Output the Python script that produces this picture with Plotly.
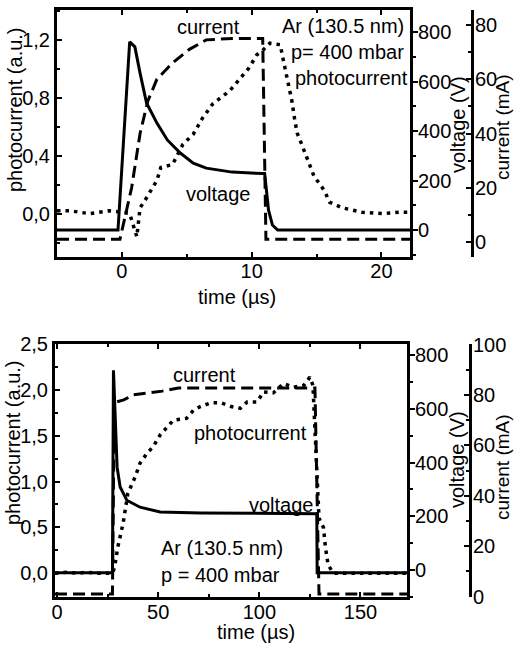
import plotly.graph_objects as go

# ---- top panel data (time in us) ----
t_volt_top = [-5, -0.3, 0.6, 1.0, 1.4, 1.9, 2.7, 3.5, 4.5, 5.5, 6.5, 8.5, 10.9, 11.0, 11.3, 11.6, 12.0, 22.2]
volt_top = [0, 0, 760, 740, 634, 513, 432, 364, 311, 270, 250, 234, 228, 228, 80, 20, 0, 0]

t_cur_top = [-5, -0.15, 0.75, 1.4, 2.0, 2.7, 3.9, 5.2, 6.5, 8.5, 10.85, 11.1, 22.2]
cur_top = [1, 1, 20, 40, 52, 60, 66, 71, 74.5, 75, 75, 1, 1]

t_pc_top = [-5, -4, -2.5, -1, 0, 0.6, 1.15, 1.4, 1.9, 2.7, 3.0, 3.9, 4.7, 5.5, 6.2, 7.0, 8.3, 9.1, 9.8,
            10.4, 10.85, 11.4, 12.2, 12.4, 12.9, 13.1, 13.3, 13.5, 13.9, 14.3, 14.8, 15.6, 16, 17, 18.5,
            20.1, 21.4, 22.2]
pc_top = [0.02, 0.02, 0.0, 0.02, 0.01, 0.0, -0.16, 0.04, 0.11, 0.23, 0.32, 0.34, 0.48, 0.55, 0.66, 0.76,
          0.85, 0.94, 1.01, 1.1, 1.13, 1.18, 1.17, 1.08, 0.88, 0.78, 0.66, 0.56, 0.47, 0.37, 0.26, 0.16,
          0.08, 0.04, 0.01, 0.0, 0.01, 0.01]

# ---- bottom panel data ----
t_volt_bot = [-1, 27.4, 27.9, 28.7, 29.7, 31.2, 34.5, 41, 51, 71, 128.4, 128.6, 173]
volt_bot = [-10, -10, 743, 558, 383, 309, 260, 234, 216, 212, 210, -10, -10]

t_cur_bot = [-1, 27.4, 28.3, 33, 37.7, 52, 60, 127.5, 129.5, 173]
cur_bot = [1, 1, 77, 78, 80, 81.5, 82.7, 82.7, 1, 1]

t_pc_bot = [-1, 5, 10, 15, 20, 25, 27.5, 28.5, 30, 32.7, 35, 38.6, 41, 44.5, 47.5, 51, 54.5, 57.5, 61, 64,
            67.5, 71, 76, 81, 86, 90.6, 94, 99, 102, 107, 112, 117, 122, 125, 126.5, 127.5, 128.5, 129.5,
            131.7, 132.7, 134, 136.6, 150, 173]
pc_bot = [0, 0.01, 0, 0.01, 0, 0, 0.0, 0.07, 0.28, 0.55, 0.87, 1.05, 1.2, 1.31, 1.38, 1.51, 1.6, 1.67, 1.68,
          1.69, 1.78, 1.82, 1.86, 1.86, 1.82, 1.80, 1.87, 1.87, 1.98, 1.97, 2.07, 2.03, 2.05, 2.14, 2.05,
          1.6, 1.0, 0.6, 0.5, 0.28, 0.09, 0.0, 0.0, 0.0]

FONT = "Liberation Sans, Arial, sans-serif"
W, H = 514, 645
LW = 3
solid = dict(color="black", width=LW)
dashed = dict(color="black", width=LW, dash="12px,6px")
dotted = dict(color="black", width=3.5, dash="3.5px,5px")

fig = go.Figure()
# top
fig.add_trace(go.Scatter(x=t_volt_top, y=volt_top, mode="lines", line=solid, xaxis="x", yaxis="y2"))
fig.add_trace(go.Scatter(x=t_cur_top, y=cur_top, mode="lines", line=dashed, xaxis="x", yaxis="y3"))
fig.add_trace(go.Scatter(x=t_pc_top, y=pc_top, mode="lines", line=dotted, xaxis="x", yaxis="y"))
# bottom
fig.add_trace(go.Scatter(x=t_volt_bot, y=volt_bot, mode="lines", line=solid, xaxis="x2", yaxis="y5"))
fig.add_trace(go.Scatter(x=t_cur_bot, y=cur_bot, mode="lines", line=dashed, xaxis="x2", yaxis="y6"))
fig.add_trace(go.Scatter(x=t_pc_bot, y=pc_bot, mode="lines", line=dotted, xaxis="x2", yaxis="y4"))

tickfont = dict(family=FONT, size=20, color="black")
common = dict(showline=True, linecolor="black", linewidth=3, showgrid=False, zeroline=False,
              automargin=False, ticklen=5, tickwidth=2, tickcolor="black", tickfont=tickfont)


def minor(step, side):
    return dict(dtick=step, ticks=side, ticklen=3, tickwidth=2, tickcolor="black")


top_dom = [1 - 257 / H, 1 - 10 / H]
bot_dom = [1 - 597 / H, 1 - 344 / H]

fig.update_layout(
    width=W, height=H, margin=dict(l=0, r=0, t=0, b=0, autoexpand=False),
    paper_bgcolor="white", plot_bgcolor="white", showlegend=False,
    separators=", ",
    font=dict(family=FONT, color="black"),
    xaxis=dict(domain=[57 / W, 410 / W], anchor="y", range=[-5, 22.2], dtick=10, ticks="inside",
               mirror="ticks", minor=minor(5, "inside"), ticklabelstandoff=-6, **common),
    yaxis=dict(domain=top_dom, anchor="x", range=[-0.3, 1.41], dtick=0.4, tick0=0, tickformat=".1f",
               ticks="inside", mirror=True, minor=minor(0.2, "inside"), **common),
    yaxis2=dict(overlaying="y", side="right", anchor="x", range=[-109, 889], dtick=200, ticks="outside",
                minor=minor(100, "outside"), ticklabelstandoff=-4, **common),
    yaxis3=dict(overlaying="y", side="right", anchor="free", position=472 / W, range=[-5.5, 85.5],
                dtick=20, ticks="inside", minor=minor(10, "inside"), ticklabelstandoff=-3, **common),
    xaxis2=dict(domain=[55 / W, 407 / W], anchor="y4", range=[-1, 173], dtick=50, ticks="inside",
                mirror="ticks", minor=minor(25, "inside"), ticklabelstandoff=-5, **common),
    yaxis4=dict(domain=bot_dom, anchor="x2", range=[-0.26, 2.502], dtick=0.5, tick0=0, tickformat=".1f",
                ticks="inside", mirror=True, minor=minor(0.25, "inside"), **common),
    yaxis5=dict(overlaying="y4", side="right", anchor="x2", range=[-100, 841], dtick=200, ticks="outside",
                minor=minor(100, "outside"), ticklabelstandoff=-4, **common),
    yaxis6=dict(overlaying="y4", side="right", anchor="free", position=470 / W, range=[-0.2, 100.2],
                dtick=20, ticks="inside", minor=minor(10, "inside"), ticklabelstandoff=-3, **common),
)

afont = dict(family=FONT, size=20, color="black")
notes = [
    # top panel
    dict(x=6.7, y=1.29, xref="x", yref="y", text="current", xanchor="center"),
    dict(x=21.8, y=1.30, xref="x", yref="y", text="Ar (130.5 nm)", xanchor="right"),
    dict(x=21.8, y=1.117, xref="x", yref="y", text="p= 400 mbar", xanchor="right"),
    dict(x=22.15, y=0.938, xref="x", yref="y", text="photocurrent", xanchor="right"),
    dict(x=7.46, y=0.138, xref="x", yref="y", text="voltage", xanchor="center"),
    # bottom panel
    dict(x=72.8, y=2.16, xref="x2", yref="y4", text="current", xanchor="center"),
    dict(x=95.5, y=1.53, xref="x2", yref="y4", text="photocurrent", xanchor="center"),
    dict(x=111, y=0.74, xref="x2", yref="y4", text="voltage", xanchor="center"),
    dict(x=51, y=0.27, xref="x2", yref="y4", text="Ar (130.5 nm)", xanchor="left"),
    dict(x=51, y=-0.02, xref="x2", yref="y4", text="p = 400 mbar", xanchor="left"),
]
for n in notes:
    fig.add_annotation(showarrow=False, font=afont, yanchor="middle", borderpad=0, **n)

# axis titles placed where the reference has them (they overlap tick labels there)
titles = [
    ("photocurrent (a.u.)", 15, 110, -90, 20),
    ("voltage (V)", 458, 125, -90, 20),
    ("current (mA)", 502, 127, -90, 19),
    ("time (µs)", 237, 297, 0, 20),
    ("photocurrent (a.u.)", 13, 443, -90, 20),
    ("voltage (V)", 457, 460, -90, 20),
    ("current (mA)", 502, 467, -90, 19),
    ("time (µs)", 256, 632, 0, 20),
]
for text, px, py, ang, fs in titles:
    fig.add_annotation(text=text, x=px / W, y=1 - py / H, xref="paper", yref="paper",
                       xanchor="center", yanchor="middle", textangle=ang, showarrow=False,
                       font=dict(family=FONT, size=fs, color="black"), borderpad=0)

# the page body has a default 8px margin; drop it so the figure fills the window
fig.write_html("out.html", config={"displayModeBar": False},
               post_script="document.body.style.margin='0px';")
